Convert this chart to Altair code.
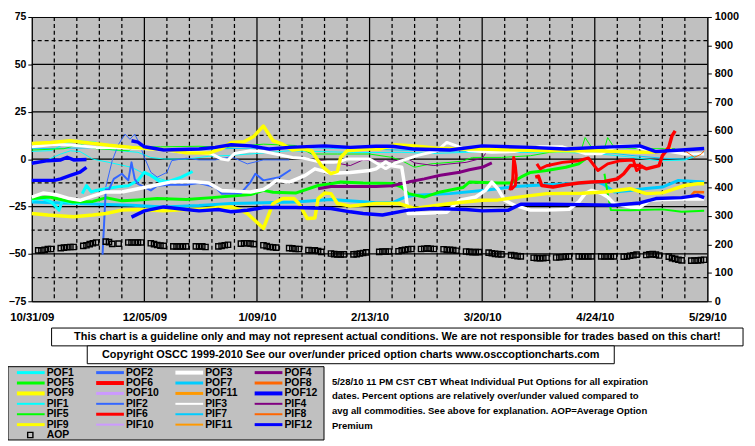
import altair as alt
import pandas as pd

START = pd.Timestamp("2009-10-31")
FONT = "Liberation Sans"

# ---------------- data (day offset from 10/31/09, value %) ----------------
X_TICK_DAYS = [0, 35, 70, 105, 140, 175, 210]
Y_LEFT_TICKS = [-75, -50, -25, 0, 25, 50, 75]
Y_RIGHT_TICKS = [0, 100, 200, 300, 400, 500, 600, 700, 800, 900, 1000]

POF9_DAYS = [0, 6, 12, 18, 24, 31, 37, 42, 48, 55, 59, 62, 66, 69, 72, 75, 78, 81, 84, 87, 90, 93, 95, 96, 98, 104, 108, 113, 119, 126, 133, 140, 147, 154, 161, 168, 175, 182, 189, 194, 199]
POF9_VALS = [8.3, 8.8, 9.7, 8.5, 7.3, 6.2, 5.5, 5.0, 3.4, 3.2, 5.5, 8.8, 9.2, 12.0, 17.5, 9.7, 7.9, 4.8, 5.5, 4.4, -3.4, -7.7, -6.5, 0.9, 4.4, 5.3, 5.3, 7.6, 7.0, 5.8, 5.3, 5.3, 5.0, 4.7, 4.4, 4.4, 4.4, 4.0, 3.6, 3.8, 5.3]

PIF9_DAYS = [0, 5, 13, 19, 23, 28, 33, 41, 48, 52, 58, 62, 65, 67, 72, 75, 78, 81.5, 83, 85.6, 88, 89, 91, 93, 95, 99, 107, 114, 119, 130, 140, 145, 150, 160, 171, 178, 186, 191, 196, 200, 203, 207, 209]
PIF9_VALS = [-28.7, -29.5, -30.4, -29.5, -28.7, -26.9, -26.6, -27.3, -26.6, -26.6, -25.5, -25.2, -26.9, -28.7, -36.5, -23.4, -20.8, -20.8, -23.4, -31.3, -31.0, -20.8, -17.9, -18.2, -23.4, -24.8, -23.4, -23.4, -26.0, -23.4, -21.7, -21.5, -20.3, -18.2, -18.0, -17.3, -15.6, -18.2, -17.8, -15.5, -13.9, -13.0, -13.0]

POF12_DAYS = [31, 33, 35, 41, 52, 57, 62, 68, 74, 80, 91, 99, 107, 112, 119, 130, 140, 155, 166, 176, 189, 194, 202, 209]
POF12_VALS = [9.7, 9.0, 6.5, 4.8, 5.3, 6.2, 7.6, 7.0, 5.3, 6.2, 7.0, 6.2, 6.8, 6.8, 5.3, 4.8, 7.0, 6.2, 5.3, 6.2, 7.0, 4.0, 4.8, 5.6]

PIF12_DAYS = [31, 35, 41, 48, 52, 58, 62, 67, 72, 82, 93, 99, 103, 109, 117, 125, 135, 140, 148, 152, 160, 171, 181, 189, 194, 202, 207, 209]
PIF12_VALS = [-30.6, -27.3, -25.2, -26.6, -27.3, -26.6, -27.8, -27.0, -25.5, -25.5, -26.0, -27.8, -28.7, -29.5, -26.9, -26.0, -26.6, -27.3, -27.0, -23.8, -23.8, -24.0, -24.3, -23.1, -20.8, -20.3, -19.1, -20.3]

POF12_OLD_DAYS = [0, 5, 9, 11, 13, 17]
POF12_OLD_VALS = [-2.2, -0.8, -0.4, 1.0, -0.4, -0.2]
PIF12_OLD_DAYS = [0, 7, 9, 12, 15, 17]
PIF12_OLD_VALS = [-11.2, -11.2, -10.4, -8.6, -6.9, -4.3]

POF3_DAYS = [0, 3.5, 7.6, 11.7, 15, 18, 23, 28, 33, 38, 43, 50, 55, 59, 64, 68, 72, 74, 76, 80, 85, 88, 93, 99, 105, 107, 110, 112, 115, 116, 117, 122, 129, 133, 138, 141, 143, 145, 147, 150, 155, 160, 167, 170, 172, 174, 177, 179, 181, 186, 189, 192, 196, 203, 209]
POF3_VALS = [-20.0, -17.9, -18.8, -20.8, -21.7, -20.0, -17.3, -17.3, -15.6, -13.9, -12.1, -11.8, -12.6, -16.5, -17.0, -17.3, -16.0, -13.9, -11.2, -12.1, -8.6, -5.1, -7.4, -7.0, -6.0, -5.1, -1.5, -3.5, -4.3, -15.0, -28.7, -28.5, -28.0, -21.7, -20.0, -16.5, -12.1, -16.0, -21.7, -24.3, -26.9, -26.9, -26.5, -22.6, -18.2, -16.5, -18.0, -20.0, -23.5, -25.2, -25.5, -21.7, -21.3, -21.0, -21.0]

PIF3_DAYS = [0, 7, 12, 20, 28, 35, 41, 47, 52, 56, 59, 61, 63, 68, 72, 75, 81, 85, 90, 95, 98, 105, 108, 110, 113, 120, 126, 129, 132, 136, 143, 150, 158, 165, 172, 177, 182, 187, 192, 197, 203, 209]
PIF3_VALS = [6.5, 7.9, 7.5, 6.2, 6.0, 5.5, 4.8, 3.6, 3.6, 2.7, 0.0, -0.5, 3.0, 4.4, 4.0, 3.0, 0.9, 0.3, -1.7, -1.7, 0.1, 0.1, -3.0, -5.0, -2.0, 2.0, 4.4, 8.8, 7.0, 4.4, 3.6, 4.0, 6.5, 6.5, 2.9, 2.9, 7.0, 7.0, 4.4, 4.4, 2.7, 2.7]

POF5_DAYS = [0, 5.5, 12.7, 19, 23, 28, 33, 39, 48, 56, 62, 68, 72, 75, 82, 89, 93, 96, 103, 112, 115, 117, 122, 127, 134, 136, 145, 149, 152, 155, 160, 166, 170, 172]
POF5_VALS = [-20.8, -20.0, -22.6, -22.3, -20.4, -22.0, -21.5, -20.8, -21.3, -20.3, -19.4, -18.7, -16.5, -17.5, -17.9, -13.9, -13.0, -12.1, -12.6, -12.9, -14.7, -18.2, -20.0, -17.3, -15.0, -12.1, -12.6, -12.6, -9.5, -7.0, -6.0, -4.3, -2.5, 0.0]
POF5_LAST_DAYS = [178, 179, 180, 186, 196, 202, 209]
POF5_LAST_VALS = [-7.7, -18.0, -26.9, -27.0, -26.5, -27.8, -27.2]

PIF5_DAYS = [0, 10, 15, 20, 25, 30, 32, 40, 52, 60, 72, 82, 87, 95, 105, 112, 115, 119, 124, 130, 134, 137, 146, 155, 161, 166, 171, 172, 174, 178, 179, 181, 190, 200]
PIF5_VALS = [4.8, 5.5, 7.9, 5.5, 5.0, 4.4, 6.5, 6.5, 6.8, 6.2, 7.9, 7.2, 2.7, 2.7, 2.7, 0.9, -0.8, -4.3, -2.5, -1.7, -1.0, 0.9, 0.9, 1.8, 3.6, 4.5, 6.0, 11.4, 6.2, 5.5, 11.4, 6.2, 5.5, 5.5]

POF1_A_DAYS = [0, 3, 6, 8.5, 9.5, 12, 15]
POF1_A_VALS = [-21.7, -20.5, -22.5, -26.9, -22.0, -23.0, -23.5]
POF1_B_DAYS = [15.7, 17, 18.5, 20, 23, 27, 30, 33, 35, 37, 40, 43, 46.5, 50]
POF1_B_VALS = [-18.2, -13.9, -17.3, -16.5, -15.6, -14.5, -14.0, -11.2, -6.9, -8.6, -12.1, -11.5, -9.5, -6.5]

PIF1_DAYS = [0, 6, 10, 14, 20, 23, 27, 33, 37, 41, 48, 55, 62, 70, 80, 90, 100, 107, 115, 125, 135, 145, 155, 165, 175, 185, 195, 203, 209]
PIF1_VALS = [4.1, 4.5, 7.9, 9.7, 9.0, 5.3, 4.5, 3.6, 0.9, 0.1, 0.0, 1.5, 2.0, 3.0, 4.4, 4.0, 3.5, 3.5, 3.6, 3.0, 3.6, 3.5, 3.6, 3.6, 3.0, 1.3, -0.8, -0.5, 3.0]
PIF1_B_DAYS = [0, 4, 9, 12, 15, 19, 24, 31, 35, 41.5]
PIF1_B_VALS = [-1.7, -1.0, 2.7, 4.4, 4.0, 0.0, -1.7, -4.3, -7.7, -11.2]

PIF7_DAYS = [0, 20, 40, 60, 80, 100, 120, 140, 160, 180, 186, 196, 203, 209]
PIF7_VALS = [5.5, 6.0, 5.0, 5.5, 6.2, 5.5, 4.5, 4.0, 3.6, 3.3, 2.0, 0.5, 0.0, 3.5]

POF7_DAYS = [0, 21, 31, 41, 52, 62, 72, 82, 93, 103, 107, 112, 116, 119, 130, 140, 145, 150, 160, 171, 176, 178, 181, 186, 191, 196, 201, 209]
POF7_VALS = [-22.6, -23.8, -24.3, -25.2, -24.5, -23.4, -23.0, -22.6, -21.3, -22.5, -23.0, -23.0, -20.0, -19.1, -18.2, -16.5, -15.6, -14.4, -13.5, -12.6, -12.1, -13.5, -17.3, -16.5, -15.5, -14.7, -11.2, -12.1]

POF2_DAYS = [22, 23, 24, 25.5, 28, 30, 31, 32, 33, 37, 39, 43, 48, 52, 57, 59, 65, 68, 69.5, 72, 77, 80.5]
POF2_VALS = [-50.4, -16.0, -16.0, -10.4, -7.7, -11.2, -1.7, -10.5, -13.0, -16.5, -14.0, -13.5, -13.5, -12.6, -14.7, -18.2, -18.0, -12.1, -7.7, -11.2, -9.5, -5.6]
PIF2_DAYS = [23, 25, 27, 29, 30.5, 32, 33.5, 35, 37, 39, 42, 43.5, 48, 52, 57, 62, 67, 72, 80]
PIF2_VALS = [-14.7, -0.8, 7.9, 13.2, 10.5, 13.2, 8.0, 0.9, -6.9, -9.5, -7.0, -0.8, 0.5, -0.4, -0.4, 1.3, -2.5, -0.4, -0.4]

POF4_DAYS = [89, 93, 99, 107, 112, 117, 122, 127, 133, 136, 140, 143]
POF4_VALS = [-15.6, -14.4, -14.4, -14.4, -14.0, -12.1, -10.4, -8.5, -6.9, -5.6, -4.3, -2.0]
PIF4_DAYS = [88, 93, 99, 103, 107, 112, 117, 119, 125, 130, 135, 140, 142]
PIF4_VALS = [-0.4, -1.5, -3.4, -0.4, -1.0, -1.0, 0.1, -2.0, -3.4, -2.5, -1.7, 0.5, 5.3]

POF6_A_DAYS = [148.6, 149.5, 149.8, 150.3, 150.6, 150.3, 149.0]
POF6_A_VALS = [-16.5, -10.4, 0.9, -3.5, -8.6, -13.9, -16.0]
POF6_B_DAYS = [157, 158, 160, 165, 170, 173, 176, 179, 183, 187, 188, 190]
POF6_B_VALS = [-2.5, -5.1, -3.5, -1.7, -0.8, 0.6, -6.0, -2.5, -0.8, -0.5, -6.0, -3.4]
POF6_C_DAYS = [156.5, 157.5, 158.5, 162, 166, 170, 174, 178, 182, 184, 186, 189, 191, 195, 196, 198, 199, 200]
POF6_C_VALS = [-9.5, -9.0, -13.9, -14.7, -13.5, -12.6, -12.1, -11.8, -10.4, -7.7, -3.4, -3.4, -5.1, -3.4, 1.8, 6.2, 12.3, 14.9]

POF8_DAYS = [205, 206, 209]
POF8_VALS = [-19.1, -17.3, -17.5]
PIF8_DAYS = [203, 206, 208, 209]
PIF8_VALS = [4.4, 1.0, 2.5, 4.4]

# Average option premium (right axis), one row per week Mon..Fri, None = no trading
AOP_WEEK_START_DAYS = [2, 9, 16, 23, 30, 37, 44, 51, 58, 65, 72, 79, 86, 93, 100, 107, 114, 121, 128, 135, 142, 149, 156, 163, 170, 177, 184, 191, 198, 205]
AOP_WEEK_VALUES = [
    [179, 179, 181, 184, 184], [187, 189, 190, 191, 191], [195, 197, 201, 204, 207],
    [210, 208, 202, None, 203], [207, 207, 207, 207, 207], [204, 201, 198, 196, 195],
    [193, 193, 193, 193, 193], [193, 193, 193, 191, None], [193, 195, 197, 199, None],
    [203, 204, 204, 203, 201], [197, 194, 191, 190, 189], [None, 187, 186, 184, 184],
    [180, 179, 179, 177, 174], [168, 166, 165, 165, 165], [165, 166, 168, 170, 172],
    [None, 174, 175, 175, 175], [176, 179, 181, 183, 184], [184, 185, 186, 185, 184],
    [183, 181, 181, 180, 178], [175, 174, 173, 173, 173], [171, 169, 167, 166, 165],
    [163, 161, 159, 158, None], [153, 152, 152, 152, 153], [154, 155, 156, 157, 158],
    [158, 158, 158, 158, 158], [158, 158, 158, 158, 158], [157, 158, 160, 162, 164],
    [163, 165, 166, 164, 161], [157, 152, 149, 146, 144], [143, 143, 144, 145, 146],
]

NAMES = [f"POF{i}" for i in range(1, 13)] + [f"PIF{i}" for i in range(1, 13)]
BASE_COLORS = ["#00FFFF", "#3366FF", "#FFFFFF", "#800080", "#00FF00", "#FF0000",
               "#00CCFF", "#FF6600", "#FFFF00", "#CC99FF", "#FF9900", "#0000FF"]
COLORS = BASE_COLORS + BASE_COLORS
LEGEND_WIDTHS = [3, 3, 4, 3, 3, 4, 3, 3, 4, 3, 3, 4] + [2, 2, 2, 2, 2, 3, 2, 2, 3, 2, 2, 3]

TEXT_1 = "This chart is a guideline only and may not represent actual conditions. We are not responsible for trades based on this chart!"
TEXT_2 = "Copyright OSCC 1999-2010 See our over/under priced option charts www.osccoptioncharts.com"
DESCRIPTION = [
    "5/28/10 11 PM CST CBT Wheat Individual Put Options for all expiration",
    "dates. Percent options are relatively over/under valued compared to",
    "avg all commodities. See above for explanation. AOP=Average Option",
    "Premium",
]

# (legend name, days, values, plotted line width)
SEGMENTS = [
    ("POF7", POF7_DAYS, POF7_VALS, 3),
    ("PIF7", PIF7_DAYS, PIF7_VALS, 1),
    ("PIF1", PIF1_DAYS, PIF1_VALS, 1),
    ("PIF1", PIF1_B_DAYS, PIF1_B_VALS, 1),
    ("POF1", POF1_A_DAYS, POF1_A_VALS, 3),
    ("POF1", POF1_B_DAYS, POF1_B_VALS, 3),
    ("PIF5", PIF5_DAYS, PIF5_VALS, 1),
    ("POF5", POF5_DAYS, POF5_VALS, 3),
    ("POF5", POF5_LAST_DAYS, POF5_LAST_VALS, 2),
    ("PIF4", PIF4_DAYS, PIF4_VALS, 1),
    ("POF4", POF4_DAYS, POF4_VALS, 3),
    ("PIF2", PIF2_DAYS, PIF2_VALS, 1),
    ("POF2", POF2_DAYS, POF2_VALS, 2),
    ("PIF3", PIF3_DAYS, PIF3_VALS, 3),
    ("POF3", POF3_DAYS, POF3_VALS, 3.5),
    ("PIF9", PIF9_DAYS, PIF9_VALS, 3.5),
    ("POF9", POF9_DAYS, POF9_VALS, 3.5),
    ("PIF8", PIF8_DAYS, PIF8_VALS, 1),
    ("POF8", POF8_DAYS, POF8_VALS, 2.5),
    ("POF6", POF6_A_DAYS, POF6_A_VALS, 3),
    ("POF6", POF6_B_DAYS, POF6_B_VALS, 3),
    ("POF6", POF6_C_DAYS, POF6_C_VALS, 3.5),
    ("POF12", POF12_OLD_DAYS, POF12_OLD_VALS, 3.5),
    ("PIF12", PIF12_OLD_DAYS, PIF12_OLD_VALS, 3.5),
    ("POF12", POF12_DAYS, POF12_VALS, 3.5),
    ("PIF12", PIF12_DAYS, PIF12_VALS, 3.5),
]


def day_to_date(d):
    return START + pd.Timedelta(days=float(d))


def dt(d):
    t = day_to_date(d)
    return alt.DateTime(year=t.year, month=t.month, date=t.day)


rows = []
for s, (name, days, vals, w) in enumerate(SEGMENTS):
    for k, (d, v) in enumerate(zip(days, vals, strict=True)):
        rows.append({"date": day_to_date(d), "value": v, "name": name,
                     "seg": f"s{s}", "ord": k, "w": w})
lines_df = pd.DataFrame(rows)

aop_rows = []
for start, week in zip(AOP_WEEK_START_DAYS, AOP_WEEK_VALUES, strict=True):
    for k, v in enumerate(week):
        if v is not None:
            aop_rows.append({"date": day_to_date(start + k), "aop": v})
aop_df = pd.DataFrame(aop_rows)

grid_major_x = pd.DataFrame({"date": [day_to_date(d) for d in range(35, 210, 35)]})
grid_minor_x = pd.DataFrame({"date": [day_to_date(d) for d in range(7, 210, 7) if d % 35]})
grid_major_y = pd.DataFrame({"v": [-50, -25, 0, 25, 50]})
grid_minor_y = pd.DataFrame({"v": [-62.5, -37.5, -12.5, 12.5, 37.5, 62.5]})

x_scale = alt.Scale(domain=[dt(0), dt(210)])
y_domain = [-75, 75]
color_scale = alt.Scale(domain=NAMES, range=COLORS)

lab = dict(labelFont=FONT, labelFontWeight="bold", labelColor="black",
           domainColor="black", tickColor="black", grid=False, title=None)

x_axis = alt.Axis(values=[dt(d) for d in X_TICK_DAYS], format="%-m/%d/%y",
                  tickSize=0, labelPadding=10, labelFlush=False, labelOverlap=False,
                  labelFontSize=11.5, **lab)

GRID_W = 1.25
v_minor = alt.Chart(grid_minor_x).mark_rule(color="black", strokeWidth=GRID_W, strokeDash=[4, 3]).encode(
    x=alt.X("date:T", scale=x_scale, axis=x_axis))
v_major = alt.Chart(grid_major_x).mark_rule(color="black", strokeWidth=GRID_W).encode(
    x=alt.X("date:T", scale=x_scale, axis=x_axis))
h_minor = alt.Chart(grid_minor_y).mark_rule(color="black", strokeWidth=GRID_W, strokeDash=[4, 3]).encode(
    y=alt.Y("v:Q", scale=alt.Scale(domain=y_domain, nice=False, zero=False), axis=None))
h_major = alt.Chart(grid_major_y).mark_rule(color="black", strokeWidth=GRID_W).encode(
    y=alt.Y("v:Q", scale=alt.Scale(domain=y_domain, nice=False, zero=False), axis=None))

lines = alt.Chart(lines_df).mark_line(strokeJoin="round", strokeCap="butt").encode(
    x=alt.X("date:T", scale=x_scale, axis=x_axis),
    y=alt.Y("value:Q", scale=alt.Scale(domain=y_domain, nice=False, zero=False),
            axis=alt.Axis(orient="left", values=Y_LEFT_TICKS, tickSize=4, labelPadding=2,
                          labelFontSize=10.5, **lab)),
    color=alt.Color("name:N", scale=color_scale, legend=None),
    strokeWidth=alt.StrokeWidth("w:Q", scale=None),
    detail="seg:N",
    order="ord:Q",
)

aop = alt.Chart(aop_df).mark_point(shape="square", filled=False, color="black",
                                   size=28, strokeWidth=1.4, opacity=1).encode(
    x=alt.X("date:T", scale=x_scale, axis=x_axis),
    y=alt.Y("aop:Q", scale=alt.Scale(domain=[0, 1000], nice=False, zero=False),
            axis=alt.Axis(orient="right", values=Y_RIGHT_TICKS, format="d",
                          tickSize=4, labelPadding=3, labelFontSize=11, **lab)),
)

one = pd.DataFrame({"a": [0]})


def rect_layer(x1, x2, y1, y2, fill):
    return alt.Chart(one).mark_rect(fill=fill, stroke="black", strokeWidth=1).encode(
        x=alt.value(x1), x2=alt.value(x2), y=alt.value(y1), y2=alt.value(y2))


def text_layer(x, y, text, size, align="left", **kw):
    return alt.Chart(one).mark_text(font=FONT, fontWeight="bold", fontSize=size, color="black",
                                    align=align, baseline="middle", **kw).encode(
        x=alt.value(x), y=alt.value(y), text=alt.value(text))


annotations = [
    rect_layer(20, 718, 314, 332, "white"),
    rect_layer(56, 588, 332, 350, "white"),
    text_layer(369, 323.5, TEXT_1, 11, align="center"),
    text_layer(322, 341.5, TEXT_2, 11, align="center"),
    rect_layer(-24, 295, 353, 427, "#C0C0C0"),
]

for i, (n, c, lw) in enumerate(zip(NAMES, COLORS, LEGEND_WIDTHS, strict=True)):
    r, col = divmod(i, 4)
    ly = 359 + 10.5 * r
    annotations.append(
        alt.Chart(one).mark_rule(color=c, strokeWidth=lw).encode(
            x=alt.value(-15 + 80 * col), x2=alt.value(13 + 80 * col), y=alt.value(ly)))
    annotations.append(text_layer(15 + 80 * col, ly, n, 10.5))

annotations.append(
    alt.Chart(one).mark_point(shape="square", filled=False, color="black", size=28,
                              strokeWidth=1.4, opacity=1).encode(x=alt.value(-1.5), y=alt.value(422)))
annotations.append(text_layer(15, 422, "AOP", 10.5))
annotations.append(text_layer(303, 368, DESCRIPTION, 9.6, lineHeight=15))

chart = alt.layer(
    v_minor, v_major, h_minor, h_major, lines, aop, *annotations,
).resolve_scale(y="independent").properties(
    width=682, height=287,
    autosize=alt.AutoSizeParams(type="none"),
    padding={"left": 24, "top": 7, "right": 40, "bottom": 144},
).configure_view(fill="#C0C0C0", stroke="black", strokeWidth=1)

chart.save("out.html", embed_options={"renderer": "svg", "actions": False})
